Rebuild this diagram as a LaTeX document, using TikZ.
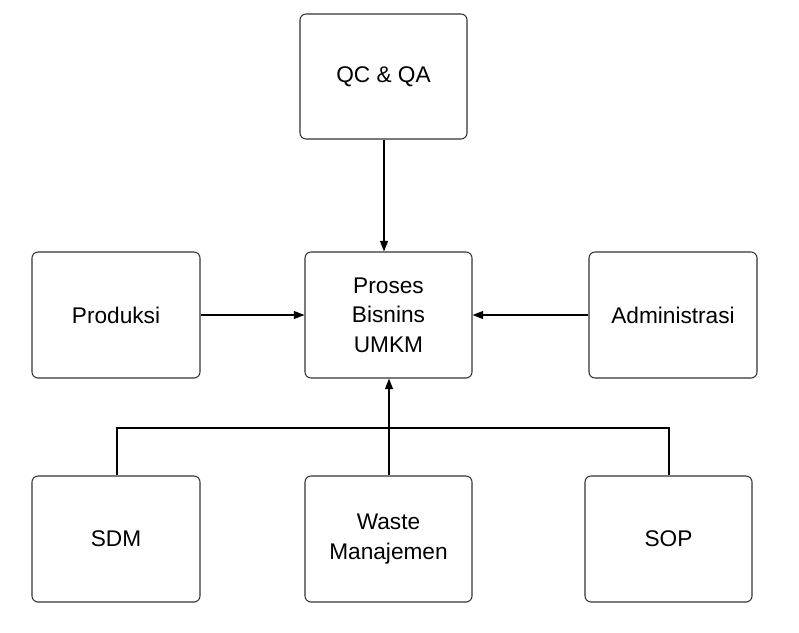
\documentclass[tikz,border=0pt]{standalone}
\usepackage{fontspec}
\setmainfont{Liberation Sans}
\usetikzlibrary{arrows.meta}
\begin{document}
\begin{tikzpicture}[x=0.75pt,y=-0.75pt,
  box/.style={draw=black!80, line width=0.8pt, rounded corners=4.5pt, fill=white, inner sep=0pt, align=center, font=\fontsize{17}{22}\selectfont},
  conn/.style={draw=black, line width=0.9pt, -{Triangle[length=8pt,width=6pt]}},
  plain/.style={draw=black, line width=0.9pt}]
\useasboundingbox (0,0) rectangle (799,632);
\node[box, minimum width=125.25pt, minimum height=93.75pt] (qc) at (383.5,76.5) {QC \& QA};
\node[box, minimum width=126pt, minimum height=94.5pt] (prod) at (116,315) {Produksi};
\node[box, minimum width=125.25pt, minimum height=94.5pt] (proses) at (388.5,315) {Proses\\Bisnins\\UMKM};
\node[box, minimum width=126pt, minimum height=94.5pt] (adm) at (673,315) {Administrasi};
\node[box, minimum width=126pt, minimum height=94.5pt] (sdm) at (116,539) {SDM};
\node[box, minimum width=125.25pt, minimum height=94.5pt] (waste) at (388.5,539) {Waste\\Manajemen};
\node[box, minimum width=125.25pt, minimum height=94.5pt] (sop) at (668.5,539) {SOP};
\coordinate (j) at (389,428);
\draw[conn] (qc.south -| 384,0) -- (384,0 |- proses.north);
\draw[conn] (prod.east) -- (proses.west);
\draw[conn] (adm.west) -- (proses.east);
\draw[plain] (sdm.north -| 117,0) |- (j);
\draw[plain] (sop.north -| 669,0) |- (j);
\draw[conn] (waste.north -| j) -- (j |- proses.south);
\end{tikzpicture}
\end{document}
